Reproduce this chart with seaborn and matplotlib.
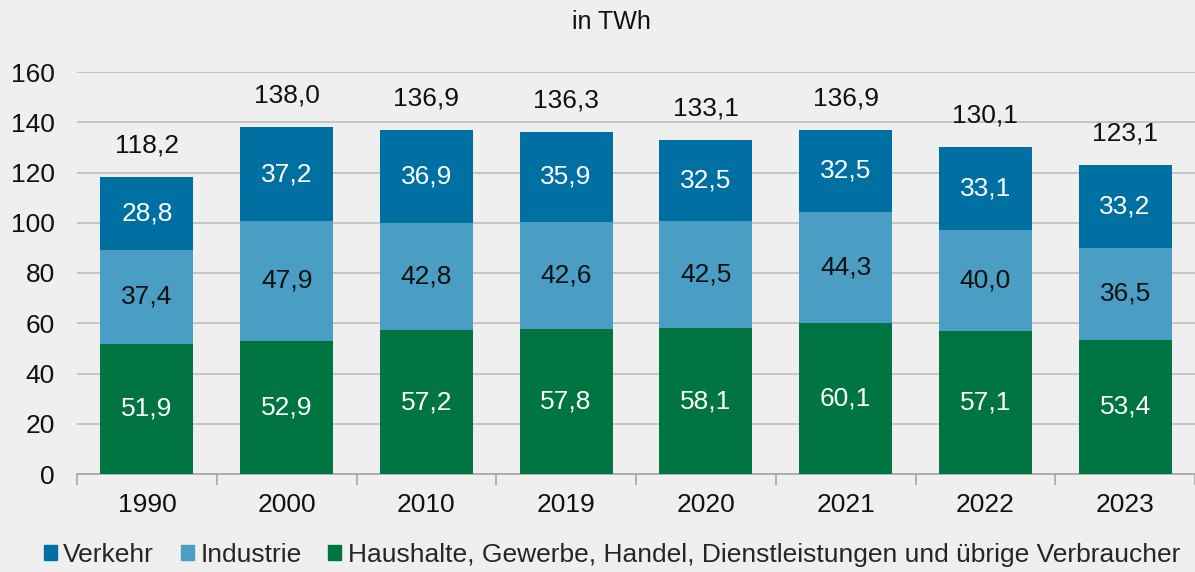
import numpy as np
import pandas as pd
import matplotlib.pyplot as plt
import seaborn as sns
from matplotlib.patches import Patch

years = ["1990", "2000", "2010", "2019", "2020", "2021", "2022", "2023"]
haushalte = [51.9, 52.9, 57.2, 57.8, 58.1, 60.1, 57.1, 53.4]
industrie = [37.4, 47.9, 42.8, 42.6, 42.5, 44.3, 40.0, 36.5]
verkehr = [28.8, 37.2, 36.9, 35.9, 32.5, 32.5, 33.1, 33.2]
totals = [118.2, 138.0, 136.9, 136.3, 133.1, 136.9, 130.1, 123.1]

c_verkehr = "#0070a2"
c_industrie = "#4a9ec4"
c_haushalte = "#007541"
bg = "#eeefee"

df = pd.DataFrame({"Jahr": years, "Haushalte": haushalte,
                   "Industrie": industrie, "Verkehr": verkehr})
df["h_ind"] = df["Haushalte"] + df["Industrie"]
df["h_ind_ver"] = df["h_ind"] + df["Verkehr"]

sns.set_style("white")
plt.rcParams["font.family"] = ["Liberation Sans", "DejaVu Sans"]

fs = 19

fig = plt.figure(figsize=(11.95, 5.72), dpi=100, facecolor=bg)
ax = fig.add_axes([77 / 1195, 1 - 474 / 572, 1 - 77 / 1195, (474 - 72) / 572])
ax.set_facecolor(bg)

# stacked bars drawn as overlapping cumulative bars
for col, c in [("h_ind_ver", c_verkehr), ("h_ind", c_industrie), ("Haushalte", c_haushalte)]:
    sns.barplot(data=df, x="Jahr", y=col, color=c, width=0.665, saturation=1,
                linewidth=0, ax=ax, zorder=3)

def fmt(v):
    return f"{v:.1f}".replace(".", ",")

for i in range(len(years)):
    h, ind, ver = haushalte[i], industrie[i], verkehr[i]
    ax.text(i, h / 2, fmt(h), ha="center", va="center", color="white", fontsize=fs, zorder=4)
    ax.text(i, h + ind / 2, fmt(ind), ha="center", va="center", color="#111111", fontsize=fs, zorder=4)
    ax.text(i, h + ind + ver / 2, fmt(ver), ha="center", va="center", color="white", fontsize=fs, zorder=4)
    ax.text(i, totals[i] + 12.5, fmt(totals[i]), ha="center", va="center", color="#111111", fontsize=fs, zorder=4)

ax.set_ylim(0, 160)
ax.set_xlim(-0.5, len(years) - 0.5)
ax.set_yticks(range(0, 161, 20))
ax.yaxis.grid(True, color="#bdbdbd", linewidth=1.2, zorder=0)
ax.set_axisbelow(True)
ax.set_xlabel("")
ax.set_ylabel("")
for s in ["top", "right", "left"]:
    ax.spines[s].set_visible(False)
ax.spines["bottom"].set_color("#a6a6a6")
ax.spines["bottom"].set_linewidth(1.2)

ax.set_xticks(np.arange(len(years)))
ax.set_xticklabels(years)
ax.set_xticks(np.arange(len(years) + 1) - 0.5, minor=True)
ax.tick_params(axis="x", which="major", length=0, pad=14, labelsize=fs, colors="#111111")
ax.tick_params(axis="x", which="minor", bottom=True, length=8, width=1.2, color="#a6a6a6", direction="out")
ax.tick_params(axis="y", length=0, pad=16, labelsize=fs, colors="#111111")

fig.text(0.512, 1 - 22 / 572, "in TWh", ha="center", va="center", fontsize=18, color="#111111")

handles = [Patch(color=c_verkehr, label="Verkehr"),
           Patch(color=c_industrie, label="Industrie"),
           Patch(color=c_haushalte, label="Haushalte, Gewerbe, Handel, Dienstleistungen und übrige Verbraucher")]
fig.legend(handles=handles, loc="center", bbox_to_anchor=(0.512, 1 - 555 / 572), ncol=3,
           frameon=False, fontsize=fs, handlelength=0.5, handleheight=0.5,
           handletextpad=0.25, columnspacing=1.0, borderaxespad=0)

fig.savefig("out.png", dpi=100, facecolor=bg)
